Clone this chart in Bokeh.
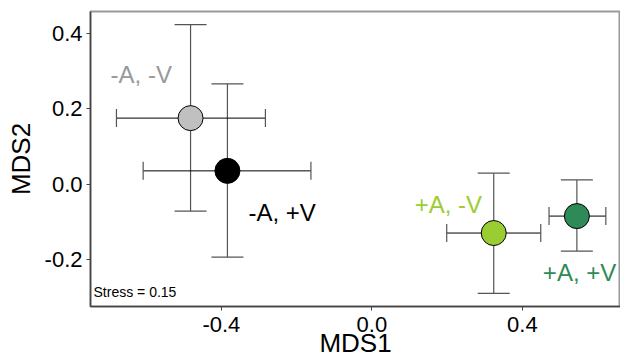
from bokeh.plotting import figure
from bokeh.models import ColumnDataSource, Whisker, Range1d, FixedTicker, Label, TeeHead, CustomJSTickFormatter
from bokeh.embed import file_html
from bokeh.resources import INLINE

groups = ["-A, -V", "-A, +V", "+A, -V", "+A, +V"]
mds1 = [-0.482, -0.384, 0.324, 0.545]
mds2 = [0.175, 0.035, -0.130, -0.085]
mds1_lo = [-0.679, -0.608, 0.199, 0.471]
mds1_hi = [-0.283, -0.162, 0.449, 0.622]
mds2_lo = [-0.072, -0.194, -0.290, -0.178]
mds2_hi = [0.423, 0.266, 0.029, 0.011]
colors = ["#c0c0c0", "#000000", "#9acd32", "#2e8b57"]
label_colors = ["#999999", "#000000", "#9acd32", "#2e8b57"]
x_ticks = [-0.4, 0.0, 0.4]
y_ticks = [-0.2, 0.0, 0.2, 0.4]
stress = 0.15
x_title = "MDS1"
y_title = "MDS2"

# label pixel offsets from each point (styling)
lab_dx = [-80, 21, -79, -34]
lab_dy = [44, -42, 29, -56]

FONT = "Liberation Sans"
XR = (-0.748, 0.661)
YR = (-0.325, 0.458)

src = ColumnDataSource(dict(x=mds1, y=mds2, xlo=mds1_lo, xhi=mds1_hi,
                            ylo=mds2_lo, yhi=mds2_hi, color=colors))

p = figure(width=620, height=364, output_backend="svg", toolbar_location=None,
           x_range=Range1d(*XR), y_range=Range1d(*YR),
           min_border_left=90, min_border_top=11, min_border_right=0, min_border_bottom=58,
           x_axis_label=x_title, y_axis_label=y_title)
p.grid.visible = False
p.outline_line_color = "#999999"
p.outline_line_width = 2
p.background_fill_color = "white"
p.border_fill_color = "white"

fmt = CustomJSTickFormatter(code="return tick.toFixed(1);")
for ax in (p.xaxis[0], p.yaxis[0]):
    ax.axis_line_color = "#444444"
    ax.axis_line_width = 1.5
    ax.major_tick_line_color = "#444444"
    ax.major_tick_out = 4
    ax.major_tick_in = 0
    ax.minor_tick_line_color = None
    ax.major_label_text_font = FONT
    ax.major_label_text_font_size = "22px"
    ax.major_label_text_color = "black"
    ax.axis_label_text_font = FONT
    ax.axis_label_text_font_size = "26px"
    ax.axis_label_text_font_style = "normal"
    ax.axis_label_text_color = "black"
    ax.formatter = fmt
p.xaxis.ticker = FixedTicker(ticks=x_ticks)
p.yaxis.ticker = FixedTicker(ticks=y_ticks)
p.xaxis.major_label_standoff = 6
p.xaxis.axis_label_standoff = -7
p.yaxis.major_label_standoff = 4
p.yaxis.axis_label_standoff = 6

p.scatter("x", "y", source=src, size=25, fill_color="color", line_color="black", line_width=1)

wv = Whisker(source=src, base="x", lower="ylo", upper="yhi", dimension="height",
             line_color="#555555", line_width=1.2,
             lower_head=TeeHead(size=32, line_color="#555555", line_width=1.2),
             upper_head=TeeHead(size=32, line_color="#555555", line_width=1.2))
wh = Whisker(source=src, base="y", lower="xlo", upper="xhi", dimension="width",
             line_color="black", line_width=1,
             lower_head=TeeHead(size=18, line_color="#555555", line_width=1.2),
             upper_head=TeeHead(size=18, line_color="#555555", line_width=1.2))
p.add_layout(wv)
p.add_layout(wh)

for g, x, y, c, dx, dy in zip(groups, mds1, mds2, label_colors, lab_dx, lab_dy):
    p.add_layout(Label(x=x, y=y, x_offset=dx, y_offset=dy, text=g, text_font=FONT,
                       text_font_size="24px", text_color=c, text_baseline="middle",
                       text_align="left"))

p.add_layout(Label(x=XR[0], y=YR[0], x_offset=3, y_offset=7, text=f"Stress = {stress}",
                   text_font=FONT, text_font_size="14px", text_color="black",
                   text_baseline="bottom", text_align="left"))

open("out.html", "w").write(file_html(p, INLINE))
